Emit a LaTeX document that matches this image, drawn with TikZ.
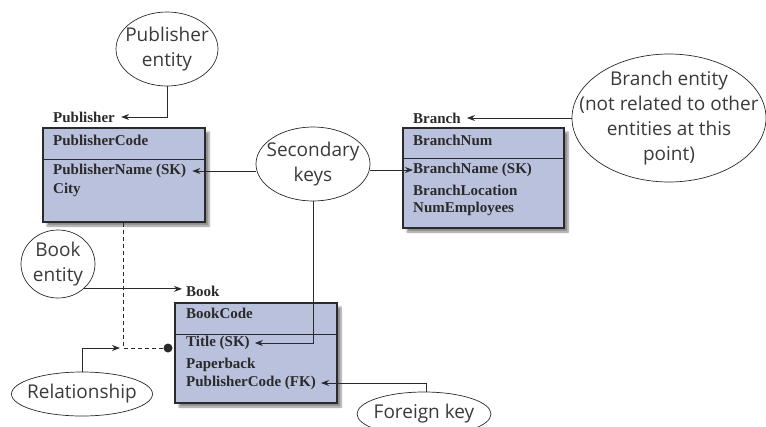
\documentclass[tikz,border=0pt]{standalone}
\usepackage{fontspec}
\setmainfont{Liberation Serif}
\newfontfamily\notefont{Open Sans}
\usetikzlibrary{
  positioning,
  arrows.meta,
  shapes.geometric,
  shadows.blur
}
\definecolor{entfill}{HTML}{B9C1DD}
\definecolor{inkline}{HTML}{2A2A2A}
\definecolor{notetext}{HTML}{3A3A3A}

\begin{document}
\begin{tikzpicture}[x=1pt, y=-1pt,
  ent/.style={draw=inkline, line width=1.3pt, fill=entfill, inner sep=0pt,
              blur shadow={shadow xshift=4pt, shadow yshift=-4pt, shadow blur steps=6, shadow opacity=45}},
  divline/.style={draw=inkline, line width=1pt},
  note/.style={ellipse, draw=inkline, line width=0.7pt, inner sep=0pt},
  notetxt/.style={align=center, inner sep=0pt, text=notetext,
                  font=\notefont\fontsize{19}{25}\selectfont},
  attr/.style={anchor=west, inner sep=0pt, text=inkline,
               font=\bfseries\fontsize{15}{17}\selectfont},
  arr/.style={-{Stealth[length=8pt, width=6pt]}, line width=1pt, inkline},
  rel/.style={line width=1pt, inkline, dash pattern=on 4pt off 3pt}
]
  \clip (0,0) rectangle (766,426);

  % Entities
  \node[ent, minimum width=162pt, minimum height=94pt] (pubbox) at (124,175) {};
  \draw[divline] ([yshift=-32pt]pubbox.north west) -- ([yshift=-32pt]pubbox.north east);
  \node[ent, minimum width=161pt, minimum height=100pt] (brbox) at (483.5,178) {};
  \draw[divline] ([yshift=-31pt]brbox.north west) -- ([yshift=-31pt]brbox.north east);
  \node[ent, minimum width=162pt, minimum height=100pt] (bookbox) at (256,353) {};
  \draw[divline] ([yshift=-32pt]bookbox.north west) -- ([yshift=-32pt]bookbox.north east);

  % Names and attributes
  \node[attr] (publbl) at (53,117) {Publisher};
  \node[attr] (pubcode) at (53,140) {PublisherCode};
  \node[attr] (pubname) at (53,171) {PublisherName (SK)};
  \node[attr] (pubcity) at (53,190) {City};

  \node[attr] (brlbl) at (413,118) {Branch};
  \node[attr] (brnum) at (413,140) {BranchNum};
  \node[attr] (brname) at (413,170) {BranchName (SK)};
  \node[attr] (brloc) at (413,190) {BranchLocation};
  \node[attr] (bremp) at (413,209) {NumEmployees};

  \node[attr] (booklbl) at (186,291) {Book};
  \node[attr] (bookcode) at (186,313) {BookCode};
  \node[attr] (title) at (186,343) {Title (SK)};
  \node[attr] (paper) at (186,365) {Paperback};
  \node[attr] (pubfk) at (186,383) {PublisherCode (FK)};

  % Callouts
  \node[note, minimum width=102pt, minimum height=74pt,
        label={[notetxt]center:Publisher\\entity}] (pubent) at (167,49) {};
  \node[note, minimum width=114pt, minimum height=74pt,
        label={[notetxt]center:Secondary\\keys}] (sk) at (313,164) {};
  \node[note, minimum width=194pt, minimum height=128pt,
        label={[notetxt]center:Branch entity\\(not related to other\\entities at this\\point)}] (brent) at (669,118) {};
  \node[note, minimum width=74pt, minimum height=68pt,
        label={[notetxt]center:Book\\entity}] (bookent) at (58,264) {};
  \node[note, minimum width=141pt, minimum height=44pt,
        label={[notetxt]center:Relationship}] (relent) at (82,394) {};
  \node[note, minimum width=134pt, minimum height=44pt,
        label={[notetxt]center:Foreign key}] (fkent) at (424,414) {};

  % Relationship
  \coordinate (relcorner) at (123,348);
  \node[circle, fill=inkline, inner sep=0pt, minimum size=9pt] (reldot) at (168,348) {};
  \draw[rel] (pubbox.south -| relcorner) -- (relcorner) -- (reldot);

  % Pointers
  \draw[arr] (pubent.south) |- ([xshift=6pt]publbl.east);
  \draw[arr] (brent.west) -- ([xshift=6pt]brlbl.east);
  \coordinate (bookout) at (bookent.-44);
  \coordinate (booktip) at ([xshift=-4pt]booklbl.west);
  \draw[arr] (bookout) -- (bookout -| booktip);
  \draw[arr] (sk.west |- pubname) -- ([xshift=6pt]pubname.east);
  \draw[arr] (sk.east |- brname) -- (brname.west);
  \draw[arr] (sk.south) |- ([xshift=5pt]title.east);
  \draw[arr] (relent.north) |- ([xshift=-3pt]relcorner);
  \draw[arr] ([xshift=2pt]fkent.north) |- ([xshift=5pt]pubfk.east);
\end{tikzpicture}
\end{document}
